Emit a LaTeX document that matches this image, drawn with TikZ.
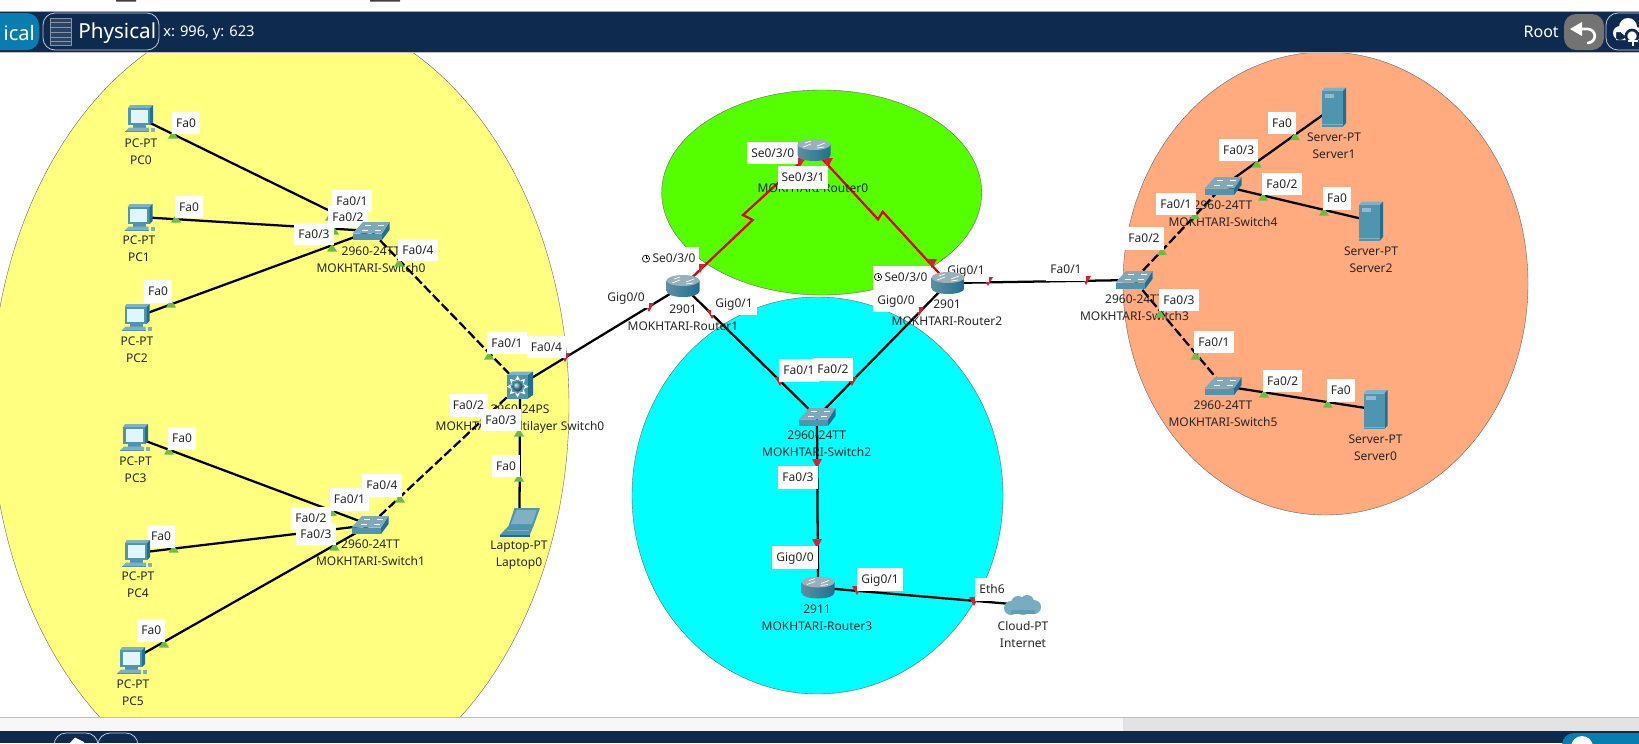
\documentclass[tikz,border=0pt]{standalone}
\usepackage{fontspec}
\setmainfont{Noto Sans}
\usetikzlibrary{positioning}
\definecolor{navybar}{HTML}{0F2A4F}
\definecolor{tabblue}{HTML}{0A7DB0}
\definecolor{zoneyellow}{HTML}{FFFF80}
\definecolor{zonegreen}{HTML}{55FF00}
\definecolor{zonecyan}{HTML}{00FFFF}
\definecolor{zoneorange}{HTML}{FFAA7F}
\definecolor{devmid}{HTML}{5095AF}
\definecolor{devlight}{HTML}{7FB0C4}
\definecolor{devdark}{HTML}{1F7090}
\definecolor{markgreen}{HTML}{6CBB45}
\definecolor{markred}{HTML}{D8202F}
\tikzset{
  pcicon/.pic={
    \fill[devmid] (-12,-10) rectangle (10,7);
    \fill[devlight] (-12,-10) -- (-10,-13) -- (13,-13) -- (10,-10) -- cycle;
    \fill[devdark] (10,-10) -- (13,-13) -- (13,4) -- (10,7) -- cycle;
    \fill[black!3!cyan!12!white] (-9.5,-8) rectangle (7.5,4.5);
    \fill[devmid] (-7,7) rectangle (6,9.5);
    \fill[devlight] (-15,13.5) -- (-11,9.5) -- (9,9.5) -- (9,13.5) -- cycle;
    \fill[devmid] (-15,13) rectangle (9,14);
    \fill[devlight] (11,9.5) rectangle (15,13.5);
  },
  swicon/.pic={
    \fill[devdark] (11,2.5) -- (18.5,-9) -- (18.5,-1) -- (11,9) -- cycle;
    \fill[devlight!85!gray] (-18.5,2.5) -- (-8,-9) -- (18.5,-9) -- (11,2.5) -- cycle;
    \fill[devmid] (-18.5,2.5) rectangle (11,9);
    \foreach \ax/\ay in {-6/-5.5,7/-5.5,-9/-1,4/-1}
      \draw[white,line width=.4pt] (\ax,\ay) -- ++(6,0);
  },
  mlicon/.pic={
    \fill[devlight] (-13,-10) -- (-8,-13.5) -- (13,-13.5) -- (8,-10) -- cycle;
    \fill[devdark] (8,-10) -- (13,-13.5) -- (13,10) -- (8,13.5) -- cycle;
    \fill[devmid] (-13,-10) rectangle (8,13.5);
    \foreach \ang in {0,45,...,315}
      \draw[white,line width=.7pt,->,>=stealth] (-2.5,1.5) ++(\ang:7.5) -- ++(\ang:3.5);
    \shade[ball color=devmid] (-2.5,1.5) circle [radius=5];
  },
  rticon/.pic={
    \shade[left color=devmid!70!gray,middle color=white,right color=devdark]
      (-16.5,-5.5) -- (-16.5,5) .. controls (-16.5,13) and (16.5,13) .. (16.5,5) -- (16.5,-5.5) -- cycle;
    \fill[devlight!60!gray!80!white] (0,-5.5) ellipse [x radius=16.5,y radius=5.5];
    \foreach \ax/\ay/\bx/\by in {-11/-3/-3/-6,3/-4/11/-7,-9/-7/-3/-9,3/-2/10/-3}
      \draw[white,line width=.5pt] (\ax,\ay) -- (\bx,\by);
  },
  svicon/.pic={
    \fill[devlight] (-12,-16) -- (-9,-19.5) -- (12,-19.5) -- (9,-16) -- cycle;
    \fill[devdark] (9,-16) -- (12,-19.5) -- (12,16) -- (9,19.5) -- cycle;
    \fill[devmid] (-12,-16) rectangle (9,19.5);
    \fill[devlight!85!white] (-9.5,-13.5) rectangle (0,-9.5);
    \draw[devlight,line width=.5pt] (-12,17.5) -- (9,17.5);
  },
  lticon/.pic={
    \fill[devmid] (-5,-14) -- (20.5,-14) -- (14,4) -- (-11,4) -- cycle;
    \fill[devlight] (-3,-12) -- (17.5,-12) -- (12.5,2) -- (-8.5,2) -- cycle;
    \fill[devmid] (-20,13.5) -- (-11,4) -- (14,4) -- (10,13.5) -- cycle;
    \fill[devdark] (-20,13) rectangle (10,14.5);
    \draw[devlight,line width=.5pt] (-13,8) -- (9,8);
  },
  cloudicon/.pic={
    \fill[devlight!85!devmid] (-12,3) circle [radius=7] (-5,-2) circle [radius=7]
      (4,-3) circle [radius=7] (11,2) circle [radius=7] (0,3) circle [radius=7];
    \fill[devmid!70!devlight] (-12,5) rectangle (12,9);
  },
  clockicon/.pic={
    \draw[black,line width=.5pt,fill=white] (0,0) circle [radius=3.6];
    \draw[black,line width=.5pt] (0,-2.4) -- (0,0) -- (2,0);
  },
  upmark/.pic={\fill[markgreen] (-5,3.5) -- (5,3.5) -- (0,-4.5) -- cycle;},
  downmark/.pic={\fill[markred] (-5,-4) -- (5,-4) -- (0,5) -- cycle;}
}
\begin{document}
\begin{tikzpicture}
[x=.75pt,y=-.75pt,
  hub/.style={inner sep=0pt,minimum size=0pt},
  link/.style={draw=black,line width=1.7pt},
  xover/.style={link,dash pattern=on 7pt off 2.5pt},
  serial/.style={draw=red!90!black,line width=1.7pt},
  zone/.style={draw=black!60,line width=.3pt},
  devtext/.style={font=\fontsize{9}{12.75}\selectfont,align=center,inner sep=0pt,text=black!85,yshift=-.75pt},
  portbox/.style={fill=white,font=\fontsize{9}{10}\selectfont,inner xsep=3pt,inner ysep=4.2pt,
    text height=7.6pt,text depth=1.2pt,text=black!85},
  barbtn/.style={draw=white!75!navybar,line width=.6pt,rounded corners=9pt}]
\path[use as bounding box,clip] (0,0) rectangle (1639,743);
\fill[white] (0,0) rectangle (1639,743);
\begin{scope}
\clip (0,53) rectangle (1639,717);
\fill[zone,fill=zoneyellow] (280,406) ellipse [x radius=289,y radius=398];
\fill[zone,fill=zonegreen] (821.7,192.5) ellipse [x radius=160,y radius=102.5];
\fill[zone,fill=zonecyan] (817.5,495.5) ellipse [x radius=185.5,y radius=198.5];
\fill[zone,fill=zoneorange] (1325.5,283.5) ellipse [x radius=202.5,y radius=231.5];
\end{scope}
\foreach \nm/\x/\y in {PC0/140/118,PC1/139.6/217,PC2/136.5/317,PC3/135/437,PC4/137/553,PC5/132/660,
    Switch0/371/231,Switch1/370/525,Multi0/520/385,Laptop0/519.5/522,
    Router0/814/150,Router1/683/286,Router2/948/283,Router3/818/587.5,
    Switch2/817/417,Switch3/1134/280,Switch4/1223/186,Switch5/1223/386,
    Server0/1375.5/409.5,Server1/1334/107,Server2/1371/221,Internet/1023/605}
  \node[hub] (\nm) at (\x,\y) {};
\coordinate (jogA) at (752.7,220);
\coordinate (jogB) at (743,215);
\coordinate (jogC) at (878,219.3);
\coordinate (jogD) at (882.7,211.7);
\foreach \a/\b in {PC0/Switch0,PC1/Switch0,PC2/Switch0,PC3/Switch1,PC4/Switch1,PC5/Switch1,
    Laptop0/Multi0,Multi0/Router1,Router1/Switch2,Router2/Switch2,Switch2/Router3,
    Router3/Internet,Router2/Switch3,Switch4/Server1,Switch4/Server2,Switch5/Server0}
  \draw[link] (\a) -- (\b);
\foreach \a/\b in {Switch0/Multi0,Switch1/Multi0,Switch3/Switch4,Switch3/Switch5}
  \draw[xover] (\a) -- (\b);
\draw[serial] (Router1) -- (jogA) -- (jogB) -- (Router0);
\draw[serial] (Router0) -- (jogC) -- (jogD) -- (Router2);
\foreach \nm/\x/\y/\txt in {PC0/141/150.5/{PC-PT\\PC0},PC1/139/248/{PC-PT\\PC1},PC2/137/348.5/{PC-PT\\PC2},
    PC3/135.6/469/{PC-PT\\PC3},PC4/138/584/{PC-PT\\PC4},PC5/133/691.7/{PC-PT\\PC5},
    Switch0/371/258.5/{2960-24TT\\MOKHTARI-Switch0},Switch1/370.5/552/{2960-24TT\\MOKHTARI-Switch1},
    Multi0/520/418.5/{2960-24PS\\MOKHTARI-Multilayer Switch0},Laptop0/519/554/{Laptop-PT\\Laptop0},
    Router0/813/187.7/{MOKHTARI-Router0},Router1/683/316.5/{2901\\MOKHTARI-Router1},
    Router2/947/312/{2901\\MOKHTARI-Router2},Router3/817/616.7/{2911\\MOKHTARI-Router3},
    Switch2/816.7/443/{2960-24TT\\MOKHTARI-Switch2},Switch3/1134.5/307/{2960-24TT\\MOKHTARI-Switch3},
    Switch4/1223/213/{2960-24TT\\MOKHTARI-Switch4},Switch5/1223/412.5/{2960-24TT\\MOKHTARI-Switch5},
    Server0/1375.5/447/{Server-PT\\Server0},Server1/1334/145/{Server-PT\\Server1},
    Server2/1371/259/{Server-PT\\Server2},Internet/1023/633.5/{Cloud-PT\\Internet}}
  \node[devtext] (\nm-text) at (\x,\y) {\txt};
\foreach \x/\y in {173/135,176/219,171/304,330/217,334/231,332/248,399/263,489/356,484/418,519/433,
    519/478,169/451,173.6/549,164/644,332/512.7,334.5/547,400/499,1162/251.7,1195/215.7,1256.7/164,
    1295/136.7,1263/197,1324/212,1160/314,1195.7/356,1264/394,1327.7/404}
  \pic at (\x,\y) {upmark};
\foreach \x/\y in {565/357,649/307,712/314,700/268,800/162,828/162,932/263,919/311,988/281,1086/280,
    780/381,852/381,817/463,817/543,857/590,974/601}
  \pic at (\x,\y) {downmark};
\foreach \x/\y/\txt [count=\i] in {186/123/Fa0,189/207/Fa0,158/291.5/Fa0,352/201/{Fa0/1},348/217/{Fa0/2},
    314/234/{Fa0/3},418/250/{Fa0/4},507/343/{Fa0/1},546.5/347/{Fa0/4},468.5/405.7/{Fa0/2},501/420/{Fa0/3},
    506/466/Fa0,182/438.7/Fa0,161/536.7/Fa0,151.4/630.7/Fa0,382/485.7/{Fa0/4},349.5/499.7/{Fa0/1},
    311/518.7/{Fa0/2},316/534/{Fa0/3},772.7/153/{Se0/3/0},803/177.7/{Se0/3/1},
    670/258.7/{\hspace{6pt}Se0/3/0},902/277.7/{\hspace{6pt}Se0/3/0},966/270.7/{Gig0/1},1066/269.7/{Fa0/1},
    896/300.7/{Gig0/0},626/297/{Gig0/0},734/303.7/{Gig0/1},799/370.7/{Fa0/1},833/369.7/{Fa0/2},
    798/477.7/{Fa0/3},795/557.7/{Gig0/0},880/579.7/{Gig0/1},992/589.7/Eth6,
    1144/238.7/{Fa0/2},1176/204/{Fa0/1},1238.7/150/{Fa0/3},1282/123/Fa0,1282/184/{Fa0/2},1337/198.7/Fa0,
    1179/300/{Fa0/3},1214/342/{Fa0/1},1282.7/381/{Fa0/2},1340.7/390.7/Fa0}
  \node[portbox] (port\i) at (\x,\y) {\txt};
\pic at (646,258.7) {clockicon};
\pic at (878,277) {clockicon};
\foreach \nm in {PC0,PC1,PC2,PC3,PC4,PC5}
  \pic at (\nm) {pcicon};
\foreach \nm in {Switch0,Switch1,Switch2,Switch3,Switch4,Switch5}
  \pic at (\nm) {swicon};
\foreach \nm in {Router0,Router1,Router2,Router3}
  \pic at (\nm) {rticon};
\foreach \nm in {Server0,Server1,Server2}
  \pic at (\nm) {svicon};
\pic at (Multi0) {mlicon};
\pic at (Laptop0) {lticon};
\pic at (Internet) {cloudicon};
\fill[white] (0,0) rectangle (1639,11);
\fill[black!75] (116,0) rectangle (136,1.5) (370,0) rectangle (400,1.5);
\fill[black!35] (0,10.5) rectangle (1639,12);
\fill[navybar] (0,12) rectangle (1639,52);
\fill[black!25] (0,52) rectangle (1639,53);
\fill[tabblue,rounded corners=9pt] (-20,13) rectangle (39,50);
\node[anchor=east,inner sep=0pt,text=white,font=\fontsize{15}{15}\selectfont\bfseries] (tabLogical) at (35,33) {ical};
\draw[barbtn] (43,13) rectangle (159,50);
\fill[navybar!88!white] (50,18) rectangle (71,45);
\draw[navybar!50!white,line width=.6pt] (50,18) rectangle (71,45);
\foreach \ly in {22,27,32,37,41}
  \draw[navybar!50!white,line width=.6pt] (50,\ly) -- (71,\ly);
\node[anchor=west,inner sep=0pt,text=white,font=\fontsize{15.5}{15.5}\selectfont] (tabPhysical) at (78,33) {Physical};
\node[anchor=west,inner sep=0pt,text=white,font=\fontsize{11}{11}\selectfont] (mousePos) at (163,33) {x: 996, y: 623};
\node[anchor=east,inner sep=0pt,text=white,font=\fontsize{12}{12}\selectfont] (rootTxt) at (1559,32) {Root};
\fill[black!55,rounded corners=9pt] (1564,14) rectangle (1604,50);
\draw[white,line width=2pt,line cap=round] (1578,29) -- (1588,29) .. controls (1597,30) and (1597,42) .. (1588,43);
\fill[white] (1570,29) -- (1582,22) -- (1582,36) -- cycle;
\draw[barbtn] (1606,13) rectangle (1660,50);
\fill[white] (1620,33) circle [radius=7] (1628,27) circle [radius=9] (1636,33) circle [radius=6] (1616,32) rectangle (1639,40);
\draw[white,line width=2pt,draw=navybar,fill=white] (1632,36) circle [radius=6];
\draw[white,line width=2pt] (1633,36) -- (1633,46) (1628,41) -- (1638,41);
\fill[black!25] (0,717) rectangle (1639,718);
\fill[black!3] (0,718) rectangle (1123,731);
\fill[black!11] (1123,718) rectangle (1639,731);
\fill[navybar] (0,731) rectangle (1639,743);
\draw[barbtn] (54,733) rectangle (98,770);
\draw[barbtn] (98,733) rectangle (138,770);
\fill[white] (68,745) -- (75,737.5) -- (84,742) -- (84,750) -- cycle;
\fill[tabblue,rounded corners=9pt] (1562,733) rectangle (1680,770);
\fill[white] (1582,747) circle [radius=11];
\end{tikzpicture}
\end{document}
